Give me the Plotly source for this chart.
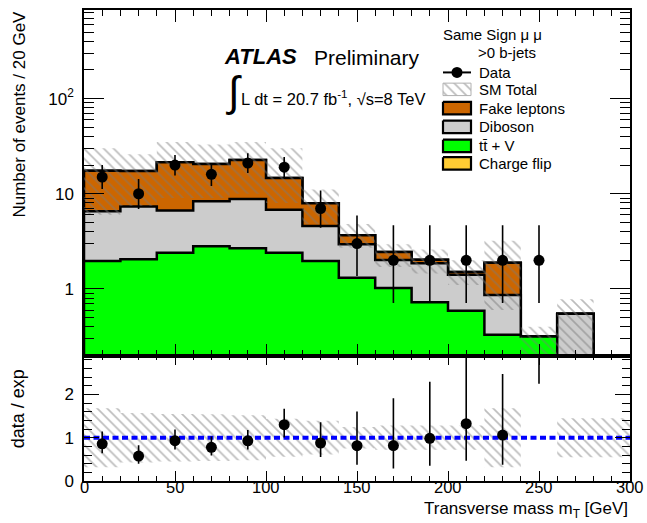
import plotly.graph_objects as go

# ---------------- data ----------------
bin_edges = [0, 20, 40, 60, 80, 100, 120, 140, 160, 180, 200, 220, 240, 260, 280, 300]
ttv = [1.96, 2.05, 2.40, 2.80, 2.67, 2.40, 1.96, 1.31, 1.02, 0.725, 0.59, 0.33, 0.316, 0.0, 0.0]
diboson = [4.60, 5.30, 4.27, 5.54, 6.13, 4.40, 2.61, 1.63, 0.99, 1.135, 0.82, 0.535, 0.0, 0.55, 0.0]
fakes = [10.9, 10.0, 14.8, 12.2, 13.8, 7.8, 3.4, 0.73, 0.43, 0.17, 0.10, 1.02, 0.0, 0.0, 0.0]
charge_flip = [0.0, 0.0, 0.0, 0.0, 0.0, 0.0, 0.0, 0.0, 0.0, 0.0, 0.0, 0.0, 0.0, 0.0, 0.0]
data = [15, 10, 20, 16, 21, 19, 7, 3, 2, 2, 2, 2, 2, None, None]
data_lo = [11.2, 6.9, 15.6, 12.1, 16.5, 14.7, 4.4, 1.37, 0.71, 0.71, 0.71, 0.71, 0.71, None, None]
data_hi = [20.0, 14.3, 25.6, 21.1, 26.7, 24.4, 10.8, 5.9, 4.66, 4.66, 4.66, 4.66, 4.66, None, None]
band_lo = [6.0, 7.5, 9.0, 9.0, 10.0, 8.0, 4.8, 2.7, 1.7, 1.45, 1.1, 0.6, 0.2, 0.1, None]
band_hi = [30.0, 26.0, 35.0, 33.0, 35.0, 30.0, 11.1, 4.8, 2.95, 2.6, 2.0, 3.2, 0.40, 0.78, None]
ratio_band = [0.68, 0.57, 0.55, 0.54, 0.52, 0.44, 0.39, 0.25, 0.28, 0.28, 0.28, 0.68, None, 0.45, 0.45]

x_tickvals = [0, 50, 100, 150, 200, 250, 300]
x_ticktext = ["0", "50", "100", "150", "200", "250", "300"]
legend_labels = ["Data", "SM Total", "Fake leptons", "Diboson", "t<span>t&#772;</span> + V", "Charge flip"]
col_fake = "#CC6600"
col_dib = "#CCCCCC"
col_ttv = "#00FF00"
col_cf = "#FFCC33"

FONT = "Liberation Sans, Arial, sans-serif"
W, H = 647, 523
ML, MR, MT, MB = 84, 17, 8, 42
SPLIT = 355  # pixel y of the boundary between panels
plot_w = W - ML - MR
plot_h = H - MT - MB
r_dom = (H - MB - SPLIT) / plot_h

nb = len(bin_edges) - 1
centers = [(bin_edges[i] + bin_edges[i + 1]) / 2 for i in range(nb)]
cum1 = [ttv[i] for i in range(nb)]
cum2 = [cum1[i] + diboson[i] for i in range(nb)]
cum3 = [cum2[i] + fakes[i] for i in range(nb)]
cum4 = [cum3[i] + charge_flip[i] for i in range(nb)]
total = cum4

BASE = 1e-3


def step_poly(vals):
    xs = [bin_edges[0]]
    ys = [BASE]
    for i, v in enumerate(vals):
        v = v if v > 0 else BASE
        xs += [bin_edges[i], bin_edges[i + 1]]
        ys += [v, v]
    xs.append(bin_edges[-1])
    ys.append(BASE)
    return xs, ys


def rects(lo, hi):
    xs, ys = [], []
    for i in range(nb):
        if lo[i] is None or hi[i] is None:
            continue
        x0, x1 = bin_edges[i], bin_edges[i + 1]
        xs += [x0, x1, x1, x0, x0, None]
        ys += [lo[i], lo[i], hi[i], hi[i], lo[i], None]
    return xs, ys


hatch = dict(shape="\\", fgcolor="#7a7a7a", bgcolor="rgba(0,0,0,0)", size=7, solidity=0.24)

fig = go.Figure()

# ---- stacked histogram (top panel) ----
for cum, col in [(cum4, col_cf), (cum3, col_fake), (cum2, col_dib), (cum1, col_ttv)]:
    xs, ys = step_poly(cum)
    fig.add_trace(go.Scatter(x=xs, y=ys, mode="lines", fill="toself", fillcolor=col,
                             line=dict(color="black", width=2.5), hoverinfo="skip",
                             showlegend=False, xaxis="x", yaxis="y"))

# uncertainty band
bx, by = rects(band_lo, band_hi)
fig.add_trace(go.Scatter(x=bx, y=by, mode="lines", fill="toself", fillcolor="rgba(0,0,0,0)",
                         fillpattern=hatch, line=dict(width=0, color="rgba(0,0,0,0)"),
                         hoverinfo="skip", showlegend=False, xaxis="x", yaxis="y"))

# data error bars + points
ex, ey = [], []
for i in range(nb):
    if data[i] is None:
        continue
    ex += [centers[i], centers[i], None]
    ey += [data_lo[i], data_hi[i], None]
fig.add_trace(go.Scatter(x=ex, y=ey, mode="lines", line=dict(color="black", width=1.6),
                         hoverinfo="skip", showlegend=False, xaxis="x", yaxis="y"))
fig.add_trace(go.Scatter(x=[centers[i] for i in range(nb) if data[i] is not None],
                         y=[d for d in data if d is not None], mode="markers",
                         marker=dict(color="black", size=11), showlegend=False,
                         xaxis="x", yaxis="y"))

# ---- ratio panel ----
rlo = [None if b is None else 1 - b for b in ratio_band]
rhi = [None if b is None else 1 + b for b in ratio_band]
rx, ry = rects(rlo, rhi)
fig.add_trace(go.Scatter(x=rx, y=ry, mode="lines", fill="toself", fillcolor="rgba(0,0,0,0)",
                         fillpattern=hatch, line=dict(width=0, color="rgba(0,0,0,0)"),
                         hoverinfo="skip", showlegend=False, xaxis="x2", yaxis="y2"))
fig.add_trace(go.Scatter(x=[bin_edges[0], bin_edges[-1]], y=[1, 1], mode="lines",
                         line=dict(color="#0000FF", width=4, dash="6px,3.5px"),
                         hoverinfo="skip", showlegend=False, xaxis="x2", yaxis="y2"))
rex, rey, rpx, rpy = [], [], [], []
for i in range(nb):
    if data[i] is None or total[i] <= 0:
        continue
    rex += [centers[i], centers[i], None]
    rey += [data_lo[i] / total[i], data_hi[i] / total[i], None]
    rpx.append(centers[i])
    rpy.append(data[i] / total[i])
fig.add_trace(go.Scatter(x=rex, y=rey, mode="lines", line=dict(color="black", width=1.6),
                         hoverinfo="skip", showlegend=False, xaxis="x2", yaxis="y2"))
fig.add_trace(go.Scatter(x=rpx, y=rpy, mode="markers", marker=dict(color="black", size=11),
                         showlegend=False, xaxis="x2", yaxis="y2"))

# ---- legend (drawn in pixel coordinates on an overlay axis) ----
LX0, LX1 = 443, 471
leg_y = [70.7, 87.7, 106.5, 125.3, 144.5, 162.0]
box_h = 12.5
fig.add_trace(go.Scatter(x=[LX0, LX1], y=[leg_y[0], leg_y[0]], mode="lines",
                         line=dict(color="black", width=2), showlegend=False,
                         hoverinfo="skip", xaxis="x3", yaxis="y3"))
fig.add_trace(go.Scatter(x=[(LX0 + LX1) / 2], y=[leg_y[0]], mode="markers",
                         marker=dict(color="black", size=11), showlegend=False,
                         hoverinfo="skip", xaxis="x3", yaxis="y3"))
yc = leg_y[1]
fig.add_trace(go.Scatter(x=[LX0, LX1, LX1, LX0, LX0],
                         y=[yc - box_h / 2, yc - box_h / 2, yc + box_h / 2, yc + box_h / 2, yc - box_h / 2],
                         mode="lines", fill="toself", fillcolor="rgba(0,0,0,0)",
                         fillpattern=hatch, line=dict(color="#b0b0b0", width=1),
                         showlegend=False, hoverinfo="skip", xaxis="x3", yaxis="y3"))
for yc, col in zip(leg_y[2:], [col_fake, col_dib, col_ttv, col_cf]):
    fig.add_trace(go.Scatter(x=[LX0, LX1, LX1, LX0, LX0],
                             y=[yc - box_h / 2, yc - box_h / 2, yc + box_h / 2, yc + box_h / 2, yc - box_h / 2],
                             mode="lines", fill="toself", fillcolor=col,
                             line=dict(color="black", width=2.2),
                             showlegend=False, hoverinfo="skip", xaxis="x3", yaxis="y3"))

ann = []


def txt(x, y, s, size, xanchor="left", yanchor="middle", angle=0):
    # x, y in page pixels -> paper coordinates
    ann.append(dict(x=(x - ML) / plot_w, y=(H - MB - y) / plot_h, xref="paper", yref="paper",
                    text=s, showarrow=False, xanchor=xanchor, yanchor=yanchor,
                    textangle=angle, font=dict(family=FONT, size=size, color="black")))


for yc, lab in zip(leg_y, legend_labels):
    txt(476.5, yc, lab, 15)
txt(441, 33, "Same Sign \u03bc \u03bc", 15)
txt(476, 51, "&gt;0 b-jets", 15)
txt(222, 55, "<b><i>ATLAS</i></b>", 22)
txt(312, 56, "Preliminary", 21)
txt(224, 90, "\u222b", 42)
txt(239, 96, "L dt = 20.7 fb<sup>-1</sup>, \u221as=8 TeV", 16.5)
txt(20, 113, "Number of events / 20 GeV", 17, xanchor="center", angle=-90)
txt(18, 409, "data / exp", 18, xanchor="center", angle=-90)
txt(630, 523, "Transverse mass m<sub>T</sub> [GeV]", 17, xanchor="right", yanchor="bottom")

# x tick labels of the ratio panel (placed at the axis values)
for v, t in zip(x_tickvals, x_ticktext):
    ann.append(dict(x=v, y=(H - MB - 487.5) / plot_h, xref="x2", yref="paper", text=t,
                    showarrow=False, xanchor="center", yanchor="middle",
                    font=dict(family=FONT, size=16.5, color="black")))

axis_common = dict(showline=True, linecolor="black", linewidth=1.5, mirror="allticks",
                   showgrid=False, zeroline=False, ticks="inside", tickcolor="black",
                   tickwidth=1.2, tickfont=dict(family=FONT, size=17, color="black"))

minor_log = []
for k in [0.1, 1, 10, 100]:
    for d in range(2, 10):
        minor_log.append(d * k)

fig.update_layout(
    width=W, height=H,
    margin=dict(l=ML, r=MR, t=MT, b=MB),
    paper_bgcolor="white", plot_bgcolor="rgba(0,0,0,0)",
    showlegend=False,
    xaxis=dict(domain=[0, 1], anchor="y", range=[0, 300], dtick=50, tick0=0, ticklen=12,
               showticklabels=False,
               minor=dict(ticks="inside", dtick=10, tick0=0, ticklen=6, tickcolor="black"),
               **axis_common),
    yaxis=dict(domain=[r_dom, 1], anchor="x", type="log", range=[-0.70, 2.931],
               tickmode="array", tickvals=[1, 10, 100], ticktext=["1", "10", "10<sup>2</sup>"],
               ticklen=20, ticklabelstandoff=5,
               minor=dict(ticks="inside", tickvals=minor_log, ticklen=10, tickcolor="black"),
               **axis_common),
    xaxis2=dict(domain=[0, 1], anchor="y2", range=[0, 300], dtick=50, tick0=0, ticklen=10,
                showticklabels=False,
                minor=dict(ticks="inside", dtick=10, tick0=0, ticklen=5, tickcolor="black"),
                **axis_common),
    yaxis2=dict(domain=[0, r_dom], anchor="x2", range=[0, 2.9],
                tickmode="array", tickvals=[0, 1, 2], ticktext=["0", "1", "2"],
                ticklen=15, ticklabelstandoff=5,
                minor=dict(ticks="inside", dtick=0.2, tick0=0, ticklen=8, tickcolor="black"),
                **axis_common),
    xaxis3=dict(domain=[0, 1], anchor="y3", range=[ML, W - MR], visible=False, fixedrange=True),
    yaxis3=dict(domain=[0, 1], anchor="x3", range=[H - MB, MT], visible=False, fixedrange=True),
    annotations=ann,
)

fig.write_html("out.html")
